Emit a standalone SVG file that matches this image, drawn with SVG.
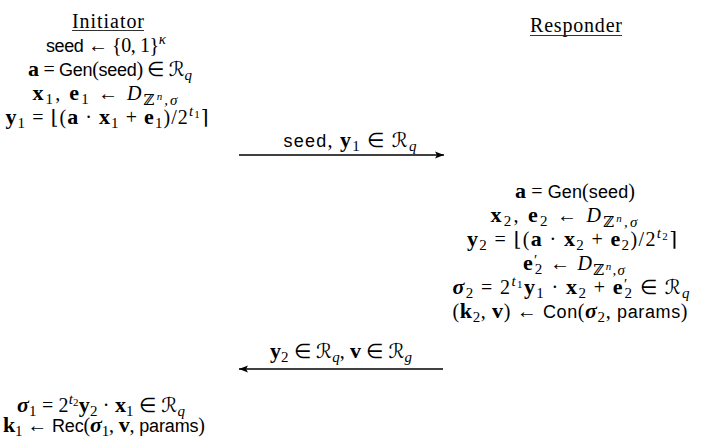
<svg xmlns="http://www.w3.org/2000/svg" width="706" height="440" viewBox="0 0 706 440">
<style>
.m{font-family:"Liberation Serif",serif;font-size:20px;fill:#000}
.sf{font-family:"Liberation Sans",sans-serif;font-size:18px}
.bf{font-weight:bold;font-size:22px}
.it{font-style:italic}
.sc{font-size:15px}
.ss{font-size:11px}
.sym{font-family:"DejaVu Serif","DejaVu Sans",serif}
.conn{stroke:#000;stroke-width:1.3;fill:none}
.ul{stroke:#333;stroke-width:1.2}
</style>
<defs>
<marker id="ah" markerWidth="10" markerHeight="8" refX="9" refY="4" orient="auto" markerUnits="userSpaceOnUse">
<path d="M0,0.5 L9,4 L0,7.5 L2,4 z" fill="#000"/>
</marker>
</defs>
<rect width="706" height="440" fill="#fff"/>
<g id="initiator">
<text class="m" x="108" y="28" text-anchor="middle" textLength="72" lengthAdjust="spacing">Initiator</text>
<line class="ul" x1="72" y1="30.5" x2="144" y2="30.5"/>
<text class="m" x="106" y="52" text-anchor="middle" textLength="120" lengthAdjust="spacing"><tspan class="sf">seed</tspan> ← {0, 1}<tspan class="sc it" dy="-8">κ</tspan></text>
<text class="m" x="110" y="76" text-anchor="middle" textLength="164" lengthAdjust="spacing"><tspan class="bf">a</tspan> = <tspan class="sf">Gen</tspan>(<tspan class="sf">seed</tspan>) ∈ <tspan class="sym it">ℛ</tspan><tspan class="sc it" dy="4">q</tspan></text>
<text class="m" x="105" y="100" text-anchor="middle" textLength="145" lengthAdjust="spacing"><tspan class="bf">x</tspan><tspan class="sc" dy="4">1</tspan><tspan dy="-4">, </tspan><tspan class="bf">e</tspan><tspan class="sc" dy="4">1</tspan><tspan dy="-4"> ← </tspan><tspan class="it">D</tspan><tspan class="sc sym" dy="5">ℤ</tspan><tspan class="ss it" dy="-5">n</tspan><tspan class="sc it" dy="5">,σ</tspan></text>
<text class="m" x="107" y="124" text-anchor="middle" textLength="203" lengthAdjust="spacing"><tspan class="bf">y</tspan><tspan class="sc" dy="4">1</tspan><tspan dy="-4"> = </tspan><tspan class="sym">⌊</tspan>(<tspan class="bf">a</tspan> · <tspan class="bf">x</tspan><tspan class="sc" dy="4">1</tspan><tspan dy="-4"> + </tspan><tspan class="bf">e</tspan><tspan class="sc" dy="4">1</tspan><tspan dy="-4">)/2</tspan><tspan class="sc it" dy="-8">t</tspan><tspan class="ss" dy="2">1</tspan><tspan class="sym" dy="6">⌉</tspan></text>
</g>
<g id="responder">
<text class="m" x="576" y="32" text-anchor="middle" textLength="92" lengthAdjust="spacing">Responder</text>
<line class="ul" x1="530" y1="35.5" x2="622" y2="35.5"/>
<text class="m" x="575" y="198" text-anchor="middle" textLength="120" lengthAdjust="spacing"><tspan class="bf">a</tspan> = <tspan class="sf">Gen</tspan>(<tspan class="sf">seed</tspan>)</text>
<text class="m" x="564" y="222" text-anchor="middle" textLength="147" lengthAdjust="spacing"><tspan class="bf">x</tspan><tspan class="sc" dy="4">2</tspan><tspan dy="-4">, </tspan><tspan class="bf">e</tspan><tspan class="sc" dy="4">2</tspan><tspan dy="-4"> ← </tspan><tspan class="it">D</tspan><tspan class="sc sym" dy="5">ℤ</tspan><tspan class="ss it" dy="-5">n</tspan><tspan class="sc it" dy="5">,σ</tspan></text>
<text class="m" x="572" y="246" text-anchor="middle" textLength="210" lengthAdjust="spacing"><tspan class="bf">y</tspan><tspan class="sc" dy="4">2</tspan><tspan dy="-4"> = </tspan><tspan class="sym">⌊</tspan>(<tspan class="bf">a</tspan> · <tspan class="bf">x</tspan><tspan class="sc" dy="4">2</tspan><tspan dy="-4"> + </tspan><tspan class="bf">e</tspan><tspan class="sc" dy="4">2</tspan><tspan dy="-4">)/2</tspan><tspan class="sc it" dy="-8">t</tspan><tspan class="ss" dy="2">2</tspan><tspan class="sym" dy="6">⌉</tspan></text>
<text class="m" x="574" y="270" text-anchor="middle" textLength="102" lengthAdjust="spacing"><tspan class="bf">e</tspan><tspan class="sc" dy="-5">′</tspan><tspan class="sc" dy="9" dx="-4">2</tspan><tspan dy="-4"> ← </tspan><tspan class="it">D</tspan><tspan class="sc sym" dy="5">ℤ</tspan><tspan class="ss it" dy="-5">n</tspan><tspan class="sc it" dy="5">,σ</tspan></text>
<text class="m" x="571" y="294" text-anchor="middle" textLength="237" lengthAdjust="spacing"><tspan class="bf it">σ</tspan><tspan class="sc" dy="4">2</tspan><tspan dy="-4"> = 2</tspan><tspan class="sc it" dy="-8">t</tspan><tspan class="ss" dy="2">1</tspan><tspan class="bf" dy="6">y</tspan><tspan class="sc" dy="4">1</tspan><tspan dy="-4"> · </tspan><tspan class="bf">x</tspan><tspan class="sc" dy="4">2</tspan><tspan dy="-4"> + </tspan><tspan class="bf">e</tspan><tspan class="sc" dy="-5">′</tspan><tspan class="sc" dy="9" dx="-4">2</tspan><tspan dy="-4"> ∈ </tspan><tspan class="sym it">ℛ</tspan><tspan class="sc it" dy="4">q</tspan></text>
<text class="m" x="570" y="318" text-anchor="middle" textLength="235" lengthAdjust="spacing">(<tspan class="bf">k</tspan><tspan class="sc" dy="4">2</tspan><tspan dy="-4">, </tspan><tspan class="bf">v</tspan>) ← <tspan class="sf">Con</tspan>(<tspan class="bf it">σ</tspan><tspan class="sc" dy="4">2</tspan><tspan dy="-4">, </tspan><tspan class="sf">params</tspan>)</text>
</g>
<g id="initiator-final">
<text class="m" x="101" y="412" text-anchor="middle" textLength="168" lengthAdjust="spacing"><tspan class="bf it">σ</tspan><tspan class="sc" dy="4">1</tspan><tspan dy="-4"> = 2</tspan><tspan class="sc it" dy="-8">t</tspan><tspan class="ss" dy="2">2</tspan><tspan class="bf" dy="6">y</tspan><tspan class="sc" dy="4">2</tspan><tspan dy="-4"> · </tspan><tspan class="bf">x</tspan><tspan class="sc" dy="4">1</tspan><tspan dy="-4"> ∈ </tspan><tspan class="sym it">ℛ</tspan><tspan class="sc it" dy="4">q</tspan></text>
<text class="m" x="104" y="432" text-anchor="middle" textLength="202" lengthAdjust="spacing"><tspan class="bf">k</tspan><tspan class="sc" dy="4">1</tspan><tspan dy="-4"> ← </tspan><tspan class="sf">Rec</tspan>(<tspan class="bf it">σ</tspan><tspan class="sc" dy="4">1</tspan><tspan dy="-4">, </tspan><tspan class="bf">v</tspan>, <tspan class="sf">params</tspan>)</text>
</g>
<g id="connectors">
<line class="conn" x1="239" y1="155" x2="444" y2="155" marker-end="url(#ah)"/>
<text class="m" x="350" y="147" text-anchor="middle" textLength="133" lengthAdjust="spacing"><tspan class="sf">seed</tspan>, <tspan class="bf">y</tspan><tspan class="sc" dy="4">1</tspan><tspan dy="-4"> ∈ </tspan><tspan class="sym it">ℛ</tspan><tspan class="sc it" dy="4">q</tspan></text>
<line class="conn" x1="443" y1="369" x2="239" y2="369" marker-end="url(#ah)"/>
<text class="m" x="341" y="358" text-anchor="middle" textLength="142" lengthAdjust="spacing"><tspan class="bf">y</tspan><tspan class="sc" dy="4">2</tspan><tspan dy="-4"> ∈ </tspan><tspan class="sym it">ℛ</tspan><tspan class="sc it" dy="4">q</tspan><tspan dy="-4">, </tspan><tspan class="bf">v</tspan> ∈ <tspan class="sym it">ℛ</tspan><tspan class="sc it" dy="4">g</tspan></text>
</g>
</svg>
